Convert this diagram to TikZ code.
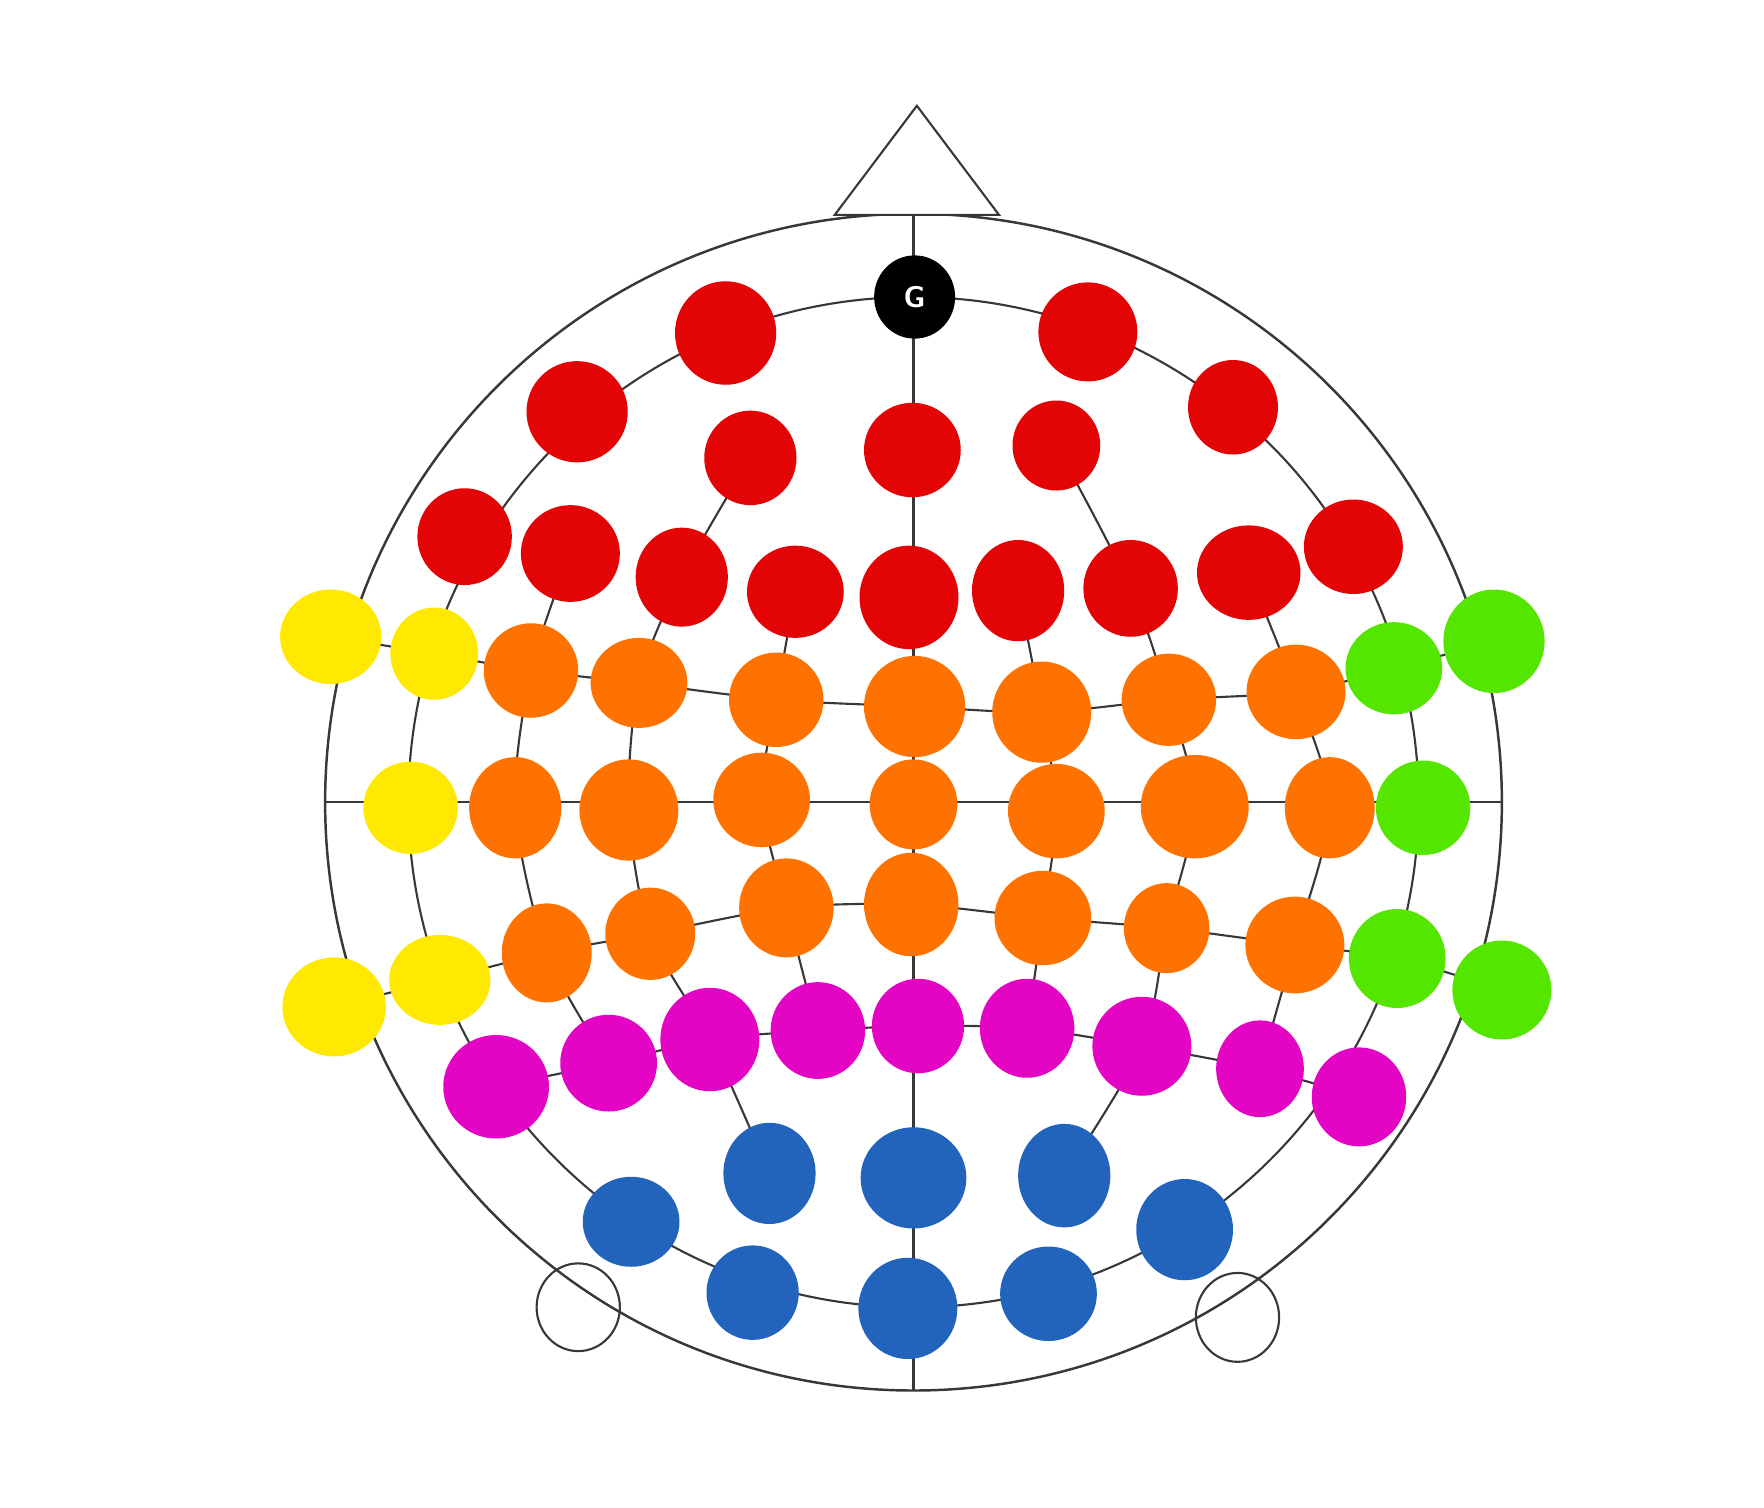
\documentclass[tikz,border=0pt]{standalone}
\usepackage{tikz}
\usetikzlibrary{shapes.geometric,backgrounds}
\definecolor{eegred}{RGB}{227,5,5}
\definecolor{eegorange}{RGB}{255,114,0}
\definecolor{eegyellow}{RGB}{255,233,0}
\definecolor{eeggreen}{RGB}{85,230,0}
\definecolor{eegmagenta}{RGB}{228,5,196}
\definecolor{eegblue}{RGB}{34,99,188}

\begin{document}
\begin{tikzpicture}[
    x=0.01125cm, y=-0.01125cm,
    grid/.style={draw=black!78, line width=0.6pt},
    electrode/.style={ellipse, inner sep=0pt, minimum width=0.97cm, minimum height=0.97cm},
    sz/.style 2 args={minimum width=#1*0.01125cm, minimum height=#2*0.01125cm},
    redel/.style={electrode, fill=eegred},
    orangeel/.style={electrode, fill=eegorange},
    yellowel/.style={electrode, fill=eegyellow},
    greenel/.style={electrode, fill=eeggreen},
    magentael/.style={electrode, fill=eegmagenta},
    blueel/.style={electrode, fill=eegblue},
    ear/.style={ellipse, inner sep=0pt, draw=black!78, line width=0.6pt}
]
\useasboundingbox (0,0) rectangle (1568,1340);
\coordinate (c) at (812,713);
\coordinate (nasion) at (812,190);
\coordinate (inion) at (812,1236);
\coordinate (leftpt) at (289,713);
\coordinate (rightpt) at (1335,713);

% ground electrode
\node[electrode, sz={72}{74}, fill=black, text=white, font=\fontsize{8.5}{9}\selectfont\sffamily\bfseries] (gnd) at (813,264) {G};

% frontal (red)
\node[redel, sz={90}{92}] (R1) at (645,296) {};
\node[redel, sz={88}{88}] (R2) at (967,295) {};
\node[redel, sz={90}{90}] (R3) at (513,366) {};
\node[redel, sz={80}{84}] (R4) at (1096,362) {};
\node[redel, sz={82}{84}] (R5) at (667,407) {};
\node[redel, sz={86}{84}] (R6) at (811,400) {};
\node[redel, sz={78}{80}] (R7) at (939,396) {};
\node[redel, sz={84}{86}] (R8) at (413,477) {};
\node[redel, sz={88}{86}] (R9) at (507,492) {};
\node[redel, sz={82}{88}] (R10) at (606,513) {};
\node[redel, sz={86}{82}] (R11) at (707,526) {};
\node[redel, sz={88}{92}] (R12) at (808,531) {};
\node[redel, sz={82}{90}] (R13) at (905,525) {};
\node[redel, sz={84}{86}] (R14) at (1005,523) {};
\node[redel, sz={92}{84}] (R15) at (1110,509) {};
\node[redel, sz={88}{84}] (R16) at (1203,486) {};

% temporal left (yellow)
\node[yellowel, sz={90}{84}] (Y1) at (294,566) {};
\node[yellowel, sz={78}{82}] (Y2) at (386,581) {};
\node[yellowel, sz={84}{82}] (Y3) at (365,718) {};
\node[yellowel, sz={90}{80}] (Y5) at (391,871) {};
\node[yellowel, sz={92}{88}] (Y4) at (297,895) {};

% temporal right (green)
\node[greenel, sz={86}{82}] (G1) at (1239,594) {};
\node[greenel, sz={90}{92}] (G2) at (1328,570) {};
\node[greenel, sz={84}{84}] (G3) at (1265,718) {};
\node[greenel, sz={86}{88}] (G4) at (1242,852) {};
\node[greenel, sz={88}{88}] (G5) at (1335,880) {};

% central (orange)
\node[orangeel, sz={84}{84}] (O1) at (472,596) {};
\node[orangeel, sz={86}{80}] (O2) at (568,607) {};
\node[orangeel, sz={84}{84}] (O3) at (690,622) {};
\node[orangeel, sz={90}{90}] (O4) at (813,628) {};
\node[orangeel, sz={88}{90}] (O5) at (926,633) {};
\node[orangeel, sz={84}{82}] (O6) at (1039,622) {};
\node[orangeel, sz={88}{84}] (O7) at (1152,615) {};
\node[orangeel, sz={82}{90}] (O8) at (458,718) {};
\node[orangeel, sz={88}{90}] (O9) at (559,720) {};
\node[orangeel, sz={86}{84}] (O10) at (677,711) {};
\node[orangeel, sz={78}{80}] (O11) at (812,715) {};
\node[orangeel, sz={86}{84}] (O12) at (939,721) {};
\node[orangeel, sz={96}{92}] (O13) at (1062,717) {};
\node[orangeel, sz={80}{90}] (O14) at (1182,718) {};
\node[orangeel, sz={80}{88}] (O15) at (486,847) {};
\node[orangeel, sz={80}{82}] (O16) at (578,830) {};
\node[orangeel, sz={84}{88}] (O17) at (699,807) {};
\node[orangeel, sz={84}{92}] (O18) at (810,804) {};
\node[orangeel, sz={86}{84}] (O19) at (927,816) {};
\node[orangeel, sz={76}{80}] (O20) at (1037,825) {};
\node[orangeel, sz={88}{86}] (O21) at (1151,840) {};

% parietal (magenta)
\node[magentael, sz={94}{92}] (M1) at (441,966) {};
\node[magentael, sz={86}{86}] (M2) at (541,945) {};
\node[magentael, sz={88}{92}] (M3) at (631,924) {};
\node[magentael, sz={84}{86}] (M4) at (727,916) {};
\node[magentael, sz={82}{84}] (M5) at (816,912) {};
\node[magentael, sz={84}{88}] (M6) at (913,914) {};
\node[magentael, sz={88}{88}] (M7) at (1015,930) {};
\node[magentael, sz={78}{86}] (M8) at (1120,950) {};
\node[magentael, sz={84}{88}] (M9) at (1208,975) {};

% occipital (blue)
\node[blueel, sz={86}{80}] (B1) at (561,1086) {};
\node[blueel, sz={82}{90}] (B2) at (684,1043) {};
\node[blueel, sz={94}{90}] (B3) at (812,1047) {};
\node[blueel, sz={82}{92}] (B4) at (946,1045) {};
\node[blueel, sz={86}{90}] (B5) at (1053,1093) {};
\node[blueel, sz={82}{84}] (B6) at (669,1149) {};
\node[blueel, sz={88}{90}] (B7) at (807,1163) {};
\node[blueel, sz={86}{84}] (B8) at (932,1150) {};

% nose and ears
\draw[grid, fill=white] (742,191) -- (815,94) -- (888,191) -- cycle;
\node[ear, sz={74}{78}] (earL) at (514,1162) {};
\node[ear, sz={74}{79}] (earR) at (1100,1171) {};

\begin{scope}[on background layer]
\draw[grid, line width=0.7pt] (c) circle[radius=523];
\draw[grid] (c) circle[radius=449];
\draw[grid] (nasion) -- (inion);
\draw[grid] (leftpt) -- (rightpt);
% latitudes
\draw[grid] plot[smooth] coordinates {(Y1.center) (Y2.center) (O1.center) (O2.center) (O3.center) (O4.center) (O5.center) (O6.center) (O7.center) (G1.center) (G2.center)};
\draw[grid] plot[smooth] coordinates {(Y4.center) (Y5.center) (O15.center) (O16.center) (O17.center) (O18.center) (O19.center) (O20.center) (O21.center) (G4.center) (G5.center)};
\draw[grid] plot[smooth] coordinates {(M1.center) (M2.center) (M3.center) (M4.center) (M5.center) (M6.center) (M7.center) (M8.center) (M9.center)};
% meridians
\draw[grid] plot[smooth] coordinates {(R5.center) (R10.center) (O2.center) (O9.center) (O16.center) (M3.center) (B2.center)};
\draw[grid] plot[smooth] coordinates {(R7.center) (R14.center) (O6.center) (O13.center) (O20.center) (M7.center) (B4.center)};
\draw[grid] plot[smooth] coordinates {(R9.center) (O1.center) (O8.center) (O15.center) (M2.center)};
\draw[grid] plot[smooth] coordinates {(R15.center) (O7.center) (O14.center) (O21.center) (M8.center)};
\draw[grid] plot[smooth] coordinates {(R11.center) (O3.center) (O10.center) (O17.center) (M4.center)};
\draw[grid] plot[smooth] coordinates {(R13.center) (O5.center) (O12.center) (O19.center) (M6.center)};
\end{scope}
\end{tikzpicture}
\end{document}
